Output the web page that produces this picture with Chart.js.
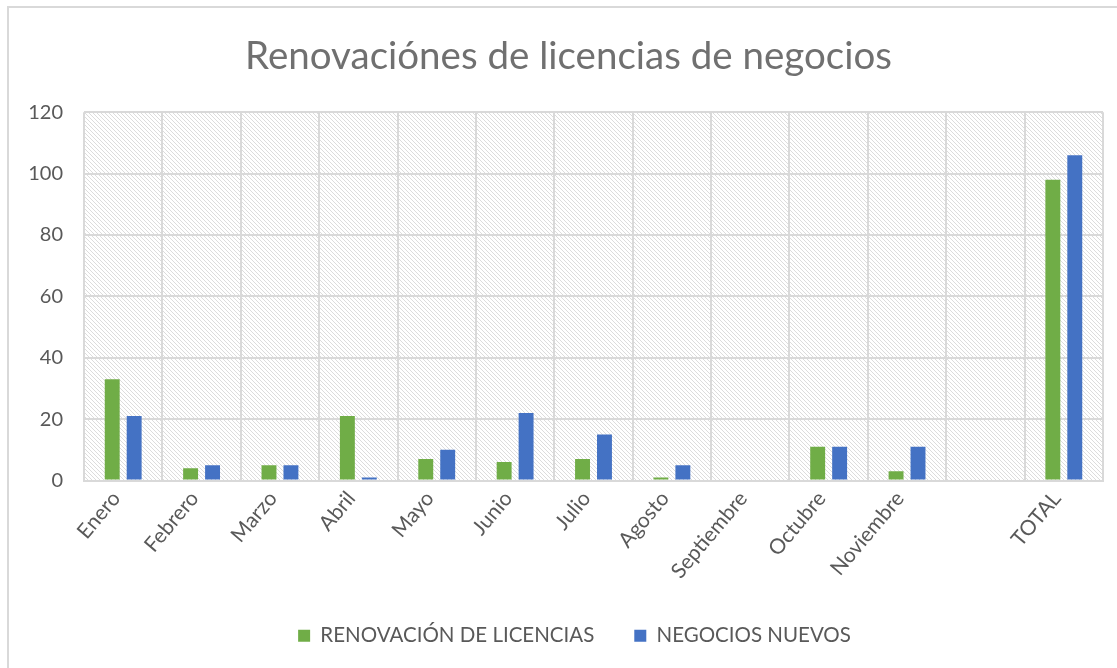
<!DOCTYPE html>
<html>
<head>
<meta charset="utf-8">
<script src="https://cdn.jsdelivr.net/npm/chart.js@4"></script>
<style>
    html, body { margin: 0; padding: 0; background: #ffffff; overflow: hidden; }
    #wrap { width: 1117px; height: 668px; position: relative; }
</style>
</head>
<body>
<div id="wrap"><canvas id="chart"></canvas></div>
<script>
const months = ["Enero", "Febrero", "Marzo", "Abril", "Mayo", "Junio", "Julio",
    "Agosto", "Septiembre", "Octubre", "Noviembre", "", "TOTAL"];
const renovaciones = [33, 4, 5, 21, 7, 6, 7, 1, 0, 11, 3, null, 98];
const negociosNuevos = [21, 5, 5, 1, 10, 22, 15, 5, 0, 11, 11, null, 106];
const yTicks = [0, 20, 40, 60, 80, 100, 120];

const TEXT_COLOR = "#595959";
const GRID_COLOR = "#d9d9d9";
const FONT = "Lato, 'Open Sans', sans-serif";

// diagonal hatch for the plot area
function makeHatch() {
    const c = document.createElement("canvas");
    c.width = 4;
    c.height = 4;
    const g = c.getContext("2d");
    g.fillStyle = "#ffffff";
    g.fillRect(0, 0, 4, 4);
    g.strokeStyle = "#dcdcdc";
    g.lineWidth = 1;
    g.beginPath();
    g.moveTo(-1, -1); g.lineTo(5, 5);
    g.moveTo(-1, 3); g.lineTo(1, 5);
    g.moveTo(3, -1); g.lineTo(5, 1);
    g.stroke();
    return g.createPattern(c, "repeat");
}

const backdrop = {
    id: "backdrop",
    beforeDraw(chart) {
        const ctx = chart.ctx;
        const a = chart.chartArea;
        ctx.save();
        ctx.strokeStyle = GRID_COLOR;
        ctx.lineWidth = 2;
        ctx.strokeRect(8, 7, 1300, 1300);
        ctx.fillStyle = makeHatch();
        ctx.fillRect(a.left, a.top, a.right - a.left, a.bottom - a.top);
        ctx.restore();
    },
    afterLayout(chart) {
        // the frame is wider than the picture, so title and legend sit right of the plot centre
        chart.titleBlock.left += 17;
        chart.titleBlock.right += 17;
        chart.legend.left += 23;
        chart.legend.right += 23;
    }
};

new Chart(document.getElementById("chart"), {
    type: "bar",
    data: {
        labels: months,
        datasets: [{
            label: "RENOVACIÓN DE LICENCIAS",
            data: renovaciones,
            backgroundColor: "#70ad47",
            categoryPercentage: 0.56,
            barPercentage: 0.68
        }, {
            label: "NEGOCIOS NUEVOS",
            data: negociosNuevos,
            backgroundColor: "#4472c4",
            categoryPercentage: 0.56,
            barPercentage: 0.68
        }]
    },
    options: {
        responsive: true,
        maintainAspectRatio: false,
        animation: false,
        layout: {
            padding: { left: 0, right: 14, top: 6, bottom: 12 }
        },
        plugins: {
            title: {
                display: true,
                text: "Renovaciónes de licencias de negocios",
                color: "#707070",
                font: { family: FONT, size: 38.5, weight: "normal" },
                padding: { top: 27, bottom: 33 }
            },
            legend: {
                position: "bottom",
                labels: {
                    color: TEXT_COLOR,
                    font: { family: FONT, size: 20.5 },
                    boxWidth: 12,
                    boxHeight: 12,
                    padding: 40
                }
            },
            tooltip: { enabled: false }
        },
        scales: {
            x: {
                grid: {
                    color: GRID_COLOR,
                    lineWidth: 2,
                    offset: true,
                    drawTicks: false
                },
                border: { color: GRID_COLOR, width: 2 },
                ticks: {
                    color: TEXT_COLOR,
                    font: { family: FONT, size: 21 },
                    maxRotation: 50,
                    minRotation: 50,
                    autoSkip: false,
                    padding: 6,
                    labelOffset: -7
                },
                afterFit(scale) {
                    scale.height = 105;
                }
            },
            y: {
                min: 0,
                max: 120,
                grid: {
                    color: GRID_COLOR,
                    lineWidth: 2,
                    drawTicks: false
                },
                border: { display: false },
                afterBuildTicks(scale) {
                    scale.ticks = yTicks.map(v => ({ value: v }));
                },
                ticks: {
                    color: TEXT_COLOR,
                    font: { family: FONT, size: 20 },
                    padding: 21
                },
                afterFit(scale) {
                    scale.width = 84;
                }
            }
        }
    },
    plugins: [backdrop]
});
</script>
</body>
</html>
